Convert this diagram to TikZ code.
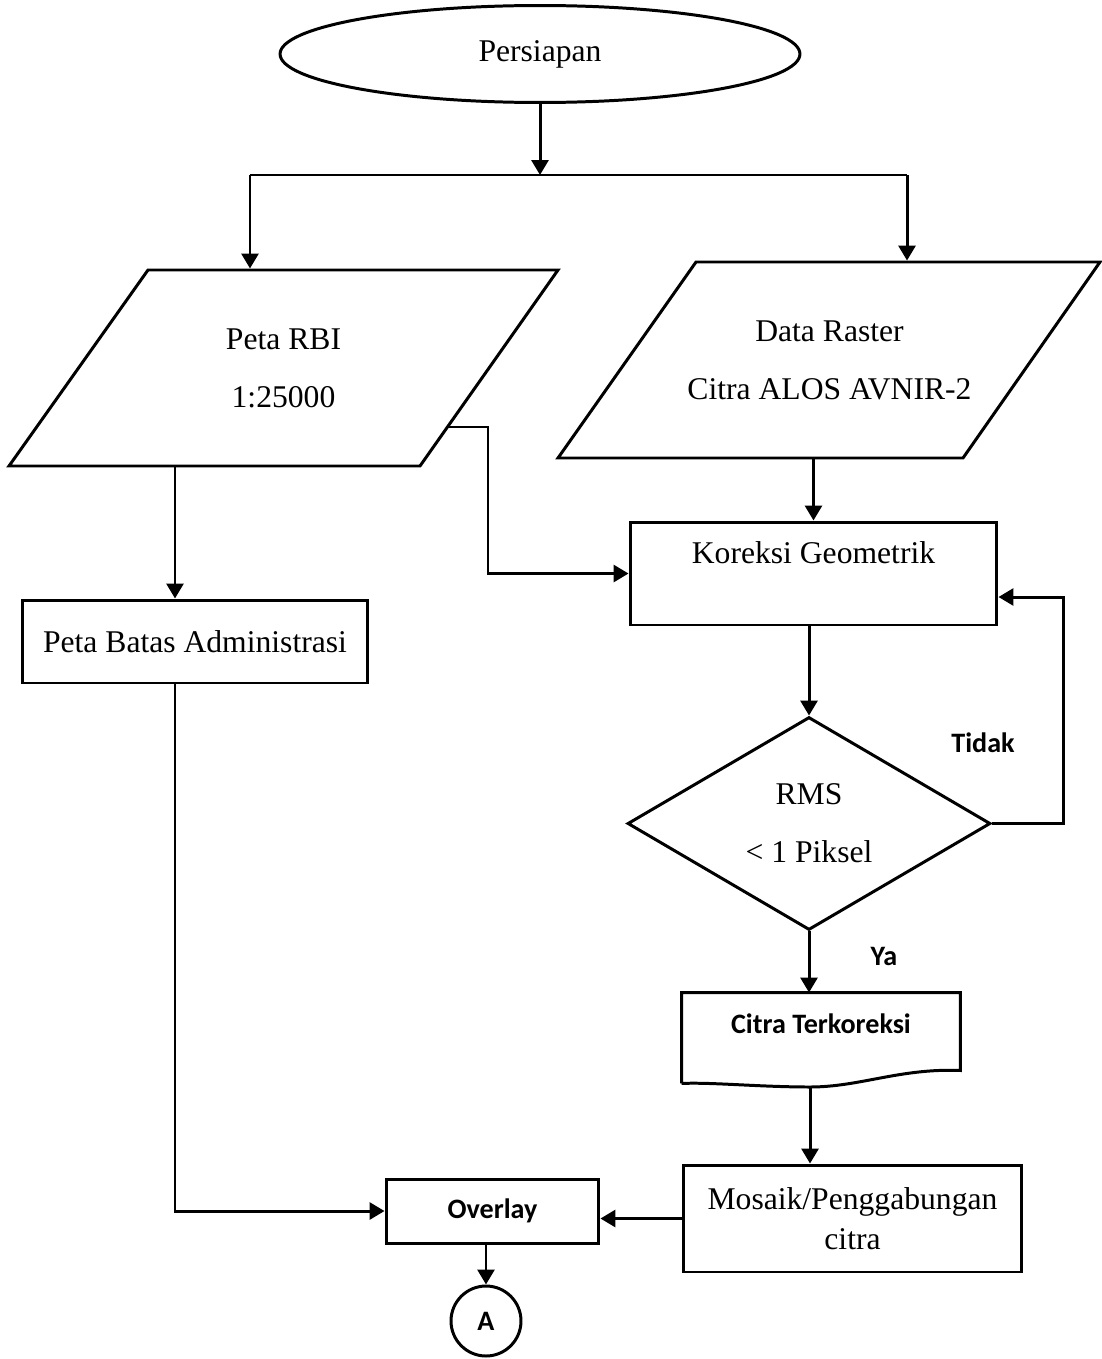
\documentclass[tikz,border=0pt]{standalone}
\usepackage{fontspec}
\setmainfont{Liberation Serif}
\newfontfamily\labelfont{Carlito}
\usepackage{tikz}
\usetikzlibrary{shapes.geometric}
\usetikzlibrary{arrows.meta}
\usetikzlibrary{positioning}

\begin{document}
\begin{tikzpicture}[
  x=0.02cm, y=-0.02cm,
  line width=1.7pt,
  every node/.style={font=\fontsize{18}{22}\selectfont},
  arr/.style={->},
  procbox/.style={draw, rectangle, inner sep=0pt, align=center},
  databox/.style={rectangle, inner sep=0pt, align=center, minimum height=3.92cm},
  sanslabel/.style={font=\labelfont\bfseries\fontsize{16}{19}\selectfont},
]
\tikzset{>={Triangle[length=0.3cm, width=0.34cm]}}
\useasboundingbox (0,0) rectangle (1102,1359);

  % Nodes
  \node[ellipse, draw, minimum width=10.4cm, minimum height=1.94cm] (prep) at (540,54) {Persiapan};
  \node[databox, minimum width=10.98cm] (rbi) at (283.5,368) {Peta RBI\\[11pt]1:25000};
  \node[databox, minimum width=10.86cm] (raster) at (829.5,360) {Data Raster\\[11pt]Citra ALOS AVNIR-2};
  \node[procbox, minimum width=7.34cm, minimum height=2.06cm, text height=0.4cm, text depth=0.82cm] (koreksi) at (813.5,573.5) {Koreksi Geometrik};
  \node[procbox, minimum width=6.92cm, minimum height=1.66cm] (batas) at (195,641.5) {Peta Batas Administrasi};
  \node[diamond, draw, inner sep=0pt, minimum width=7.26cm, minimum height=4.26cm, align=center] (rms) at (809,823.5) {RMS\\[11pt]< 1 Piksel};
  \node[sanslabel, inner sep=0pt, minimum width=5.52cm, minimum height=1.76cm, text height=0.4cm, text depth=0.58cm] (doc) at (821,1038) {Citra Terkoreksi};
  \node[procbox, minimum width=6.78cm, minimum height=2.14cm] (mosaik) at (852.5,1218.5) {Mosaik/Penggabungan\\[1pt]citra};
  \node[procbox, sanslabel, minimum width=4.26cm, minimum height=1.28cm] (overlay) at (492.5,1211) {Overlay};
  \node[circle, draw, sanslabel, minimum size=1.4cm, inner sep=0pt] (aa) at (486,1321) {A};
  \node[sanslabel] (tidak) at (983,743) {Tidak};
  \node[sanslabel] (ya) at (884,956) {Ya};

  % Data outlines (parallelograms)
  \draw (148,270) -- (558,270) -- (420,466) -- (9,466) -- cycle;
  \draw (696,262) -- (1100,262) -- (963,458) -- (558,458) -- cycle;

  % Document outline with wavy bottom
  \coordinate (docb) at (810,1087);
  \draw (doc.south west) -- (doc.north west) -- (doc.north east) -- ([yshift=0.26cm]doc.south east)
    .. controls (900,1068) and (860,1087) .. (docb)
    .. controls (760,1087) and (710,1082) .. (doc.south west);

  % Helper points
  \coordinate (split) at (540,175);
  \coordinate (tl) at (250,175);
  \coordinate (tr) at (907,175);
  \coordinate (rbiout) at (448,427);
  \coordinate (lcol) at (175,0);
  \coordinate (loop) at (1063,597);

  % Edges
  \draw[arr] (prep) -- (split);
  \draw (tl) -- (tr);
  \draw[arr] (tl) -- (tl |- rbi.north);
  \draw[arr] (tr) -- (tr |- raster.north);
  \draw[arr] (rbiout) -- ++(40,0) |- (koreksi.west);
  \draw[arr] (rbi.south -| lcol) -- (batas.north -| lcol);
  \draw[arr] (batas.south -| lcol) |- (overlay.west);
  \draw[arr] (koreksi.north |- raster.south) -- (koreksi.north);
  \draw[arr] (rms.north |- koreksi.south) -- (rms.north);
  \draw[arr] (rms.east) -| (loop) -- (loop -| koreksi.east);
  \draw[arr] (rms.south) -- (rms.south |- doc.north);
  \draw[arr] (docb) -- (docb |- mosaik.north);
  \draw[arr] (mosaik.west) -- (mosaik.west -| overlay.east);
  \draw[arr] (overlay.south -| aa.north) -- (aa.north);
\end{tikzpicture}
\end{document}
